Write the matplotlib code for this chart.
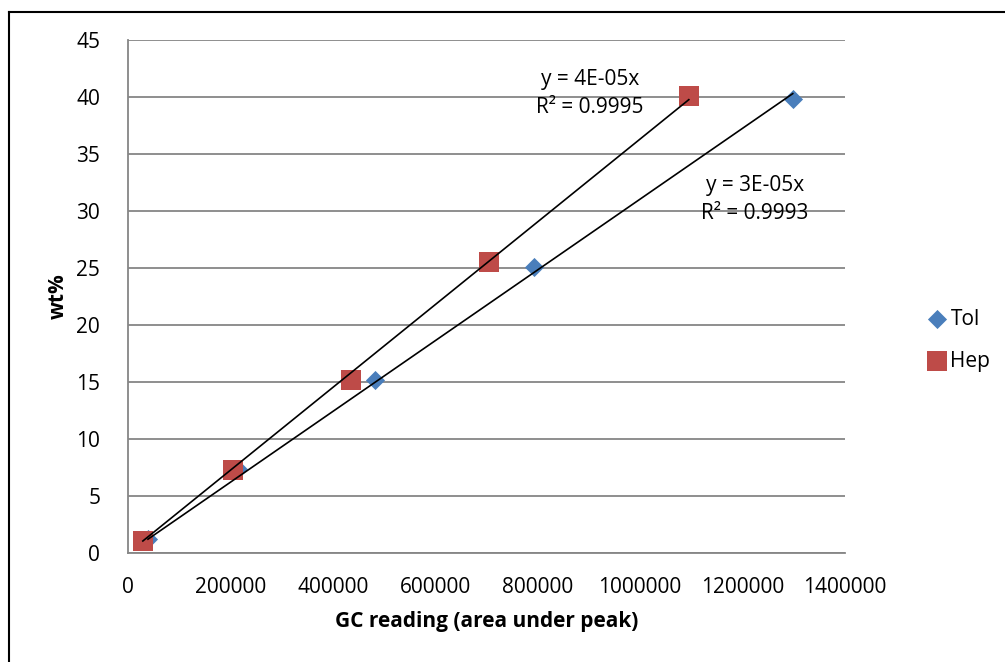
import numpy as np
import matplotlib.pyplot as plt
from matplotlib.lines import Line2D

plt.rcParams['font.family'] = ['Open Sans', 'DejaVu Sans']

# Calibration data: GC peak area vs concentration
tol_area = [39000, 215000, 482000, 793000, 1298000]
tol_wt = [1.2, 7.37, 15.2, 25.1, 39.8]
hep_area = [29000, 205000, 435000, 705000, 1095000]
hep_wt = [1.05, 7.28, 15.2, 25.5, 40.1]

tol_eq = "y = 3E-05x\nR² = 0.9993"
hep_eq = "y = 4E-05x\nR² = 0.9995"

x_ticks = [0, 200000, 400000, 600000, 800000, 1000000, 1200000, 1400000]
y_ticks = [0, 5, 10, 15, 20, 25, 30, 35, 40, 45]

fs = 15


def fit_origin(x, y):
    # least squares line forced through zero
    x = np.asarray(x, float)
    y = np.asarray(y, float)
    return (x * y).sum() / (x * x).sum()


fig = plt.figure(figsize=(10.05, 6.62), dpi=100)
ax = fig.add_axes([128 / 1005, 1 - 553 / 662, 717 / 1005, 513 / 662])

grid_col = '#868686'
ax.set_xlim(0, 1400000)
ax.set_ylim(0, 45)
ax.set_xticks(x_ticks)
ax.set_yticks(y_ticks)
ax.set_xticklabels([str(v) for v in x_ticks])
ax.tick_params(length=0, labelsize=fs, pad=17)
ax.tick_params(axis='y', pad=20)
ax.yaxis.grid(True, color=grid_col, linewidth=1.3)
ax.set_axisbelow(True)
for s in ['top', 'right']:
    ax.spines[s].set_visible(False)
for s in ['left', 'bottom']:
    ax.spines[s].set_color(grid_col)
    ax.spines[s].set_linewidth(1.3)

# trend lines over the data range
for xs, ys in [(tol_area, tol_wt), (hep_area, hep_wt)]:
    m = fit_origin(xs, ys)
    xr = np.array([min(xs), max(xs)])
    ax.plot(xr, m * xr, color='black', linewidth=1.2, zorder=4)

ax.scatter(tol_area, tol_wt, marker='D', s=95, color='#4a7ebb', label='Tol',
           zorder=3, linewidths=0)
ax.scatter(hep_area, hep_wt, marker='s', s=210, color='#be4b48', label='Hep',
           zorder=3, linewidths=0)

ax.text(902000, 40.3, hep_eq, ha='center', va='center', fontsize=fs,
        linespacing=1.45)
ax.text(1224000, 31.0, tol_eq, ha='center', va='center', fontsize=fs,
        linespacing=1.45)

ax.set_xlabel('GC reading (area under peak)', fontsize=fs, fontweight='bold',
              labelpad=10)
ax.set_ylabel('wt%', fontsize=fs, fontweight='bold', labelpad=5)

ax.legend(loc='center left', bbox_to_anchor=(1.102, 0.415), frameon=False,
          fontsize=fs, handletextpad=0.15, labelspacing=1.0, borderaxespad=0,
          handlelength=1.0)

# outer chart frame
fig.add_artist(Line2D([9 / 1005, 9 / 1005], [0, 1 - 12 / 662], color='black',
                      linewidth=1.5, transform=fig.transFigure))
fig.add_artist(Line2D([9 / 1005, 1], [1 - 12 / 662, 1 - 12 / 662], color='black',
                      linewidth=1.5, transform=fig.transFigure))

fig.savefig('out.png', dpi=100)
